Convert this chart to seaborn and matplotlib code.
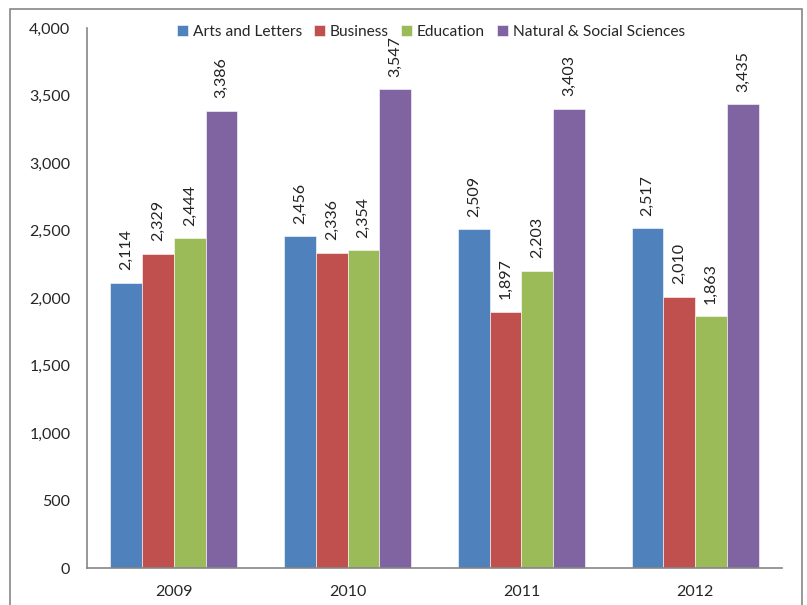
import matplotlib
matplotlib.use("Agg")
import matplotlib.pyplot as plt
import seaborn as sns
import pandas as pd
from matplotlib.patches import Rectangle
from matplotlib.ticker import FuncFormatter

years = ["2009", "2010", "2011", "2012"]
series = ["Arts and Letters", "Business", "Education", "Natural & Social Sciences"]
arts = [2114, 2456, 2509, 2517]
business = [2329, 2336, 1897, 2010]
education = [2444, 2354, 2203, 1863]
natsci = [3386, 3547, 3403, 3435]
colors = ["#4F81BD", "#C0504D", "#9BBB59", "#8064A2"]

rows = []
for s, vals in zip(series, [arts, business, education, natsci]):
    for y, v in zip(years, vals):
        rows.append({"Year": y, "Series": s, "Value": v})
df = pd.DataFrame(rows)

sns.set_style("white")
plt.rcParams["font.family"] = ["Lato", "DejaVu Sans"]

fig = plt.figure(figsize=(8.07, 6.05), dpi=100)
ax = fig.add_axes([87/807, 1-568/605, (782-87)/807, (568-28)/605])

sns.barplot(data=df, x="Year", y="Value", hue="Series", order=years, hue_order=series,
            palette=colors, width=0.73, ax=ax, saturation=1, edgecolor="white", linewidth=0.4)

for cont in ax.containers:
    ax.bar_label(cont, labels=[f"{int(v):,}" for v in cont.datavalues], rotation=90,
                 padding=9, fontsize=11.5, color="#222222")

ax.set_ylim(0, 4000)
ax.set_xlim(-0.5, 3.5)
ax.set_yticks(range(0, 4001, 500))
ax.yaxis.set_major_formatter(FuncFormatter(lambda v, p: f"{int(v):,}"))
ax.set_xlabel("")
ax.set_ylabel("")
ax.set_xticks([0, 1, 2, 3])
ax.set_xticklabels(years)
ax.set_xticks([-0.5, 0.5, 1.5, 2.5, 3.5], minor=True)
ax.tick_params(axis="x", which="major", length=0, pad=12, labelsize=11.5)
ax.tick_params(axis="x", which="minor", length=5, color="#868686", width=1)
ax.tick_params(axis="y", length=6, color="#868686", width=1, labelsize=11.5, pad=6)
for sp in ["top", "right"]:
    ax.spines[sp].set_visible(False)
for sp in ["left", "bottom"]:
    ax.spines[sp].set_color("#868686")
    ax.spines[sp].set_linewidth(1.2)

handles, labels = ax.get_legend_handles_labels()
ax.legend(handles, labels, loc="upper center", bbox_to_anchor=(0.495, 1.032), ncol=4,
          frameon=False, fontsize=11.2, handlelength=0.7, handleheight=0.7,
          handletextpad=0.3, columnspacing=0.8)

fig.add_artist(Rectangle((10/807, -0.01), (802-10)/807, 1-9/605+0.01, transform=fig.transFigure,
                         fill=False, edgecolor="#868686", linewidth=1.2))

fig.savefig("out.png", dpi=100)
